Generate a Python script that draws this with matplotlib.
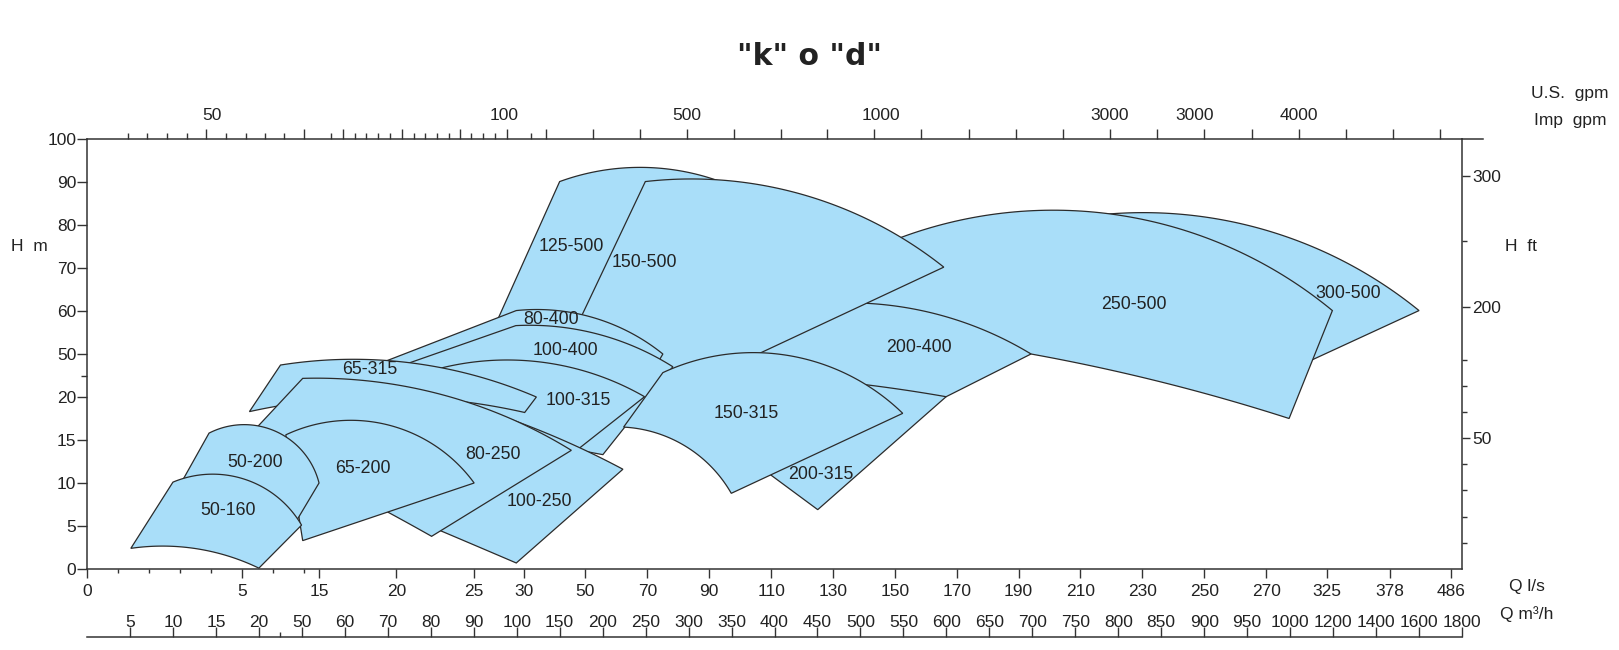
import numpy as np
import matplotlib
matplotlib.use("Agg")
import matplotlib.pyplot as plt
from matplotlib.patches import Polygon
from matplotlib.lines import Line2D
from matplotlib.ticker import NullFormatter

plt.rcParams['font.family'] = ['Liberation Sans', 'DejaVu Sans']

TITLE = '"k" o "d"'

# axis scales as printed on the sheet (labels are evenly spaced)
QM3_TICKS = [5, 10, 15, 20, 50, 60, 70, 80, 90, 100, 150, 200, 250, 300, 350, 400,
             450, 500, 550, 600, 650, 700, 750, 800, 850, 900, 950, 1000,
             1200, 1400, 1600, 1800]
H_TICKS = [0, 5, 10, 15, 20, 50, 60, 70, 80, 90, 100]
QLS_TICKS = [0, 5, 15, 20, 25, 30, 50, 70, 90, 110, 130, 150, 170, 190, 210,
             230, 250, 270, 325, 378, 486]
FT_TICKS = [10, 20, 30, 40, 50, 60, 90, 150, 200, 250, 300]
FT_LABELED = [50, 200, 300]
GPM_LABELS = ['50', '100', '500', '1000', '3000', '3000', '4000']
# where those gpm labels sit, read in m3/h
GPM_LABEL_AT = [14.5, 97.0, 297.7, 523.7, 789.5, 889.2, 1041.9]
GPM_LONG_AT = [13.84, 50.47, 59.53, 73.26, 86.74, 97.67, 133.7, 188.4, 243.0, 297.7,
               352.3, 407.0, 461.6, 516.3, 570.9, 626.7, 681.4, 736.0, 790.7, 845.3,
               900.0, 955.8, 1041.9, 1260.5, 1479.1, 1697.7]
GPM_SHORT_AT = [4.77, 7.03, 9.30, 11.63, 16.16, 18.49, 24.19, 37.44, 56.74, 62.33,
                64.88, 67.67, 70.47, 76.05, 78.60, 81.40, 84.19, 89.30, 92.09, 94.88,
                116.3]
QLS_MINOR_AT = [3.6, 7.2, 10.8, 14.4, 30.0, 50.4]   # in m3/h
QM3_MINOR = [35]
H_MINOR = [35]

# pump ranges: (Q m3/h, H m, kind); c = corner, m = point the curved edge runs through
S_300_500 = [(766.3, 82.1, 'c'), (940.7, 80.4, 'm'), (1600.0, 60.1, 'c'),
             (987.2, 35.3, 'c'), (836.0, 62.6, 'c')]
S_250_500 = [(522.1, 75.1, 'c'), (785.7, 82.7, 'm'), (1196.7, 60.1, 'c'),
             (998.8, 17.5, 'c'), (824.4, 34.2, 'm'), (698.5, 50.0, 'c'),
             (615.1, 55.6, 'c'), (522.1, 58.4, 'c'), (464.0, 62.6, 'c')]
S_200_315 = [(382.6, 11.9, 'c'), (450.3, 6.9, 'c'), (599.7, 20.2, 'c'),
             (545.3, 35.3, 'c'), (452.3, 35.3, 'c')]
S_200_400 = [(484.9, 61.9, 'c'), (591.9, 59.1, 'm'), (698.5, 50.0, 'c'),
             (599.7, 20.2, 'c'), (508.5, 28.4, 'm'), (429.1, 33.3, 'c'),
             (388.4, 47.2, 'c'), (380.2, 50.9, 'c')]
S_125_500 = [(94.9, 56.5, 'c'), (150.0, 90.1, 'c'), (243.0, 93.4, 'm'),
             (365.1, 87.7, 'c'), (243.0, 57.9, 'c')]
S_150_500 = [(172.1, 57.4, 'c'), (249.7, 90.1, 'c'), (417.4, 87.9, 'm'),
             (597.0, 70.2, 'c'), (353.5, 42.3, 'c'), (301.2, 30.5, 'c'),
             (219.8, 50.9, 'c')]
S_80_400 = [(65.8, 40.7, 'c'), (99.9, 60.1, 'c'), (184.9, 58.7, 'm'),
            (270.1, 50.0, 'c'), (260.5, 40.2, 'c')]
S_100_400 = [(71.6, 40.2, 'c'), (99.8, 56.6, 'c'), (193.0, 54.7, 'm'),
             (281.7, 41.1, 'c'), (200.3, 13.3, 'c'), (96.0, 16.7, 'm')]
S_150_315 = [(270.1, 37.0, 'c'), (382.6, 50.3, 'm'), (549.2, 18.1, 'c'),
             (349.7, 8.8, 'c'), (274.1, 15.4, 'm'), (224.4, 16.5, 'c')]
S_100_315 = [(79.8, 28.4, 'c'), (79.8, 38.1, 'c'), (150.0, 42.3, 'm'),
             (248.8, 20.2, 'c'), (163.4, 13.3, 'c'), (96.0, 16.4, 'm')]
S_65_315 = [(18.9, 18.3, 'c'), (35.1, 42.3, 'c'), (75.1, 43.9, 'm'),
            (122.9, 20.0, 'c'), (109.3, 18.2, 'c'), (72.8, 20.0, 'm')]
S_100_250 = [(77.4, 23.5, 'c'), (109.3, 16.8, 'm'), (223.6, 11.6, 'c'),
             (99.9, 0.7, 'c'), (84.4, 4.0, 'm'), (63.5, 8.4, 'c')]
S_80_250 = [(50.2, 33.0, 'c'), (82.9, 21.4, 'm'), (163.6, 13.8, 'c'),
            (80.2, 3.8, 'c'), (69.7, 6.7, 'm'), (18.4, 15.0, 'c')]
S_65_200 = [(38.8, 15.6, 'c'), (71.2, 16.6, 'm'), (90.1, 10.0, 'c'), (50.2, 3.3, 'c')]
S_50_200 = [(10.5, 9.2, 'c'), (14.2, 15.8, 'c'), (25.4, 16.4, 'm'),
            (54.0, 10.0, 'c'), (41.6, 4.3, 'c')]
S_50_160 = [(5.1, 2.4, 'c'), (10.0, 10.1, 'c'), (19.0, 10.2, 'm'), (49.8, 5.1, 'c'),
            (20.0, 0.1, 'c'), (13.1, 2.3, 'm')]

# back to front
NAMES = ['300-500', '250-500', '200-315', '200-400', '125-500', '150-500', '80-400',
         '100-400', '150-315', '100-315', '65-315', '100-250', '80-250', '65-200',
         '50-200', '50-160']
SHAPES = [S_300_500, S_250_500, S_200_315, S_200_400, S_125_500, S_150_500, S_80_400,
          S_100_400, S_150_315, S_100_315, S_65_315, S_100_250, S_80_250, S_65_200,
          S_50_200, S_50_160]
LABEL_Q = [1271.2, 818.6, 454.3, 567.8, 163.6, 248.0, 140.3, 157.0, 367.1, 171.3,
           65.8, 126.7, 94.5, 64.3, 19.6, 16.4]
LABEL_H = [64.1, 61.4, 11.0, 51.6, 75.0, 71.2, 58.1, 50.7, 18.1, 19.6,
           39.3, 7.8, 13.3, 11.7, 12.4, 6.8]

FILL = '#a9def9'
EDGE = '#2b2b2b'
AXC = '#333333'
TXT = '#222222'

# piecewise scales: every printed label takes one equal step
QX = np.array([0] + QM3_TICKS, dtype=float)
SX = np.arange(-1, len(QM3_TICKS), dtype=float)
HY = np.array(H_TICKS, dtype=float)
SY = np.arange(len(H_TICKS), dtype=float)


def fx(v):
    return np.interp(v, QX, SX)


def fx_inv(s):
    return np.interp(s, SX, QX)


def fy(v):
    return np.interp(v, HY, SY)


def fy_inv(s):
    return np.interp(s, SY, HY)


def circle_arc(p0, p1, p2, n=80):
    (x1, y1), (x2, y2), (x3, y3) = p0, p1, p2
    d = 2 * (x1 * (y2 - y3) + x2 * (y3 - y1) + x3 * (y1 - y2))
    if abs(d) < 1e-9:
        return np.array([p0, p2])
    a1, a2, a3 = x1 ** 2 + y1 ** 2, x2 ** 2 + y2 ** 2, x3 ** 2 + y3 ** 2
    cx = (a1 * (y2 - y3) + a2 * (y3 - y1) + a3 * (y1 - y2)) / d
    cy = (a1 * (x3 - x2) + a2 * (x1 - x3) + a3 * (x2 - x1)) / d
    r = np.hypot(x1 - cx, y1 - cy)
    t1 = np.arctan2(y1 - cy, x1 - cx)
    t2 = np.arctan2(y2 - cy, x2 - cx)
    t3 = np.arctan2(y3 - cy, x3 - cx)
    sweep = (t3 - t1) % (2 * np.pi)
    if (t2 - t1) % (2 * np.pi) > sweep:
        sweep -= 2 * np.pi
    t = t1 + sweep * np.linspace(0, 1, n)
    return np.column_stack([cx + r * np.cos(t), cy + r * np.sin(t)])


def outline(shape):
    # arcs are built on the sheet's own (even) grid, then mapped back to values
    pts = [(float(fx(q)), float(fy(h))) for q, h, _ in shape]
    kinds = [k for _, _, k in shape]
    n = len(shape)
    out = []
    for i in range(n):
        if kinds[i] == 'm':
            continue
        out.append(pts[i])
        if kinds[(i + 1) % n] == 'm':
            seg = circle_arc(pts[i], pts[(i + 1) % n], pts[(i + 2) % n])
            out.extend(seg[1:-1])
    xy = np.array(out)
    return np.column_stack([fx_inv(xy[:, 0]), fy_inv(xy[:, 1])])


W, H = 1619, 650
fig = plt.figure(figsize=(W / 100, H / 100), dpi=100)


def fbox(l, t, r, b):
    return [l / W, 1 - b / H, (r - l) / W, (b - t) / H]


ax = fig.add_axes(fbox(87, 139, 1462, 569))
ax.set_xscale('function', functions=(fx, fx_inv))
ax.set_yscale('function', functions=(fy, fy_inv))
ax.set_xlim(0, 1800)
ax.set_ylim(0, 100)
for sp in ax.spines.values():
    sp.set_color(AXC)
    sp.set_linewidth(1.1)

for i, (name, shape) in enumerate(zip(NAMES, SHAPES)):
    ax.add_patch(Polygon(outline(shape), closed=True, facecolor=FILL, edgecolor=EDGE,
                         linewidth=0.9, zorder=2 + i * 0.01))
for name, q, h in zip(NAMES, LABEL_Q, LABEL_H):
    ax.text(q, h, name, ha='center', va='center', fontsize=12.8, color=TXT, zorder=5)

# bottom: Q l/s
qls_at = np.array(QLS_TICKS, dtype=float) * 3.6
qls_at[QLS_TICKS.index(378)] = 1465.0   # the sheet prints 378 off its true place
ax.set_xticks(qls_at, [str(v) for v in QLS_TICKS])
ax.set_xticks(QLS_MINOR_AT, minor=True)
ax.xaxis.set_minor_formatter(NullFormatter())
ax.tick_params(axis='x', which='major', direction='out', length=6.5, width=1.0,
               pad=4.0, labelsize=12.5, color=AXC, labelcolor=TXT)
ax.tick_params(axis='x', which='minor', direction='out', length=3.0, width=1.0, color=AXC)

# left: H m
ax.set_yticks(H_TICKS, [str(v) for v in H_TICKS])
ax.set_yticks(H_MINOR, minor=True)
ax.yaxis.set_minor_formatter(NullFormatter())
ax.tick_params(axis='y', which='major', direction='out', length=7.2, width=1.0,
               pad=0.5, labelsize=12.5, color=AXC, labelcolor=TXT)
ax.tick_params(axis='y', which='minor', direction='out', length=4.3, width=1.0, color=AXC)

# right: H ft
ax_r = ax.twinx()
ax_r.set_yscale('function', functions=(fy, fy_inv))
ax_r.set_ylim(0, 100)
ax_r.set_yticks([f * 0.3048 for f in FT_LABELED], [str(f) for f in FT_LABELED])
ax_r.set_yticks([f * 0.3048 for f in FT_TICKS if f not in FT_LABELED], minor=True)
ax_r.yaxis.set_minor_formatter(NullFormatter())
ax_r.tick_params(axis='y', which='major', direction='out', length=6.0, width=1.0,
                 pad=1.5, labelsize=12.5, color=AXC, labelcolor=TXT)
ax_r.tick_params(axis='y', which='minor', direction='out', length=3.8, width=1.0, color=AXC)
for sp in ax_r.spines.values():
    sp.set_visible(False)

# top: gpm
ax_t = ax.twiny()
ax_t.set_xscale('function', functions=(fx, fx_inv))
ax_t.set_xlim(0, 1800)
ax_t.set_xticks(GPM_LONG_AT)
ax_t.set_xticks(GPM_SHORT_AT, minor=True)
ax_t.xaxis.set_major_formatter(NullFormatter())
ax_t.xaxis.set_minor_formatter(NullFormatter())
ax_t.tick_params(axis='x', which='major', direction='out', length=7.5, width=1.0, color=AXC)
ax_t.tick_params(axis='x', which='minor', direction='out', length=4.0, width=1.0, color=AXC)
for sp in ax_t.spines.values():
    sp.set_visible(False)
for lab, q in zip(GPM_LABELS, GPM_LABEL_AT):
    ax_t.text(q, 1.0535, lab, transform=ax_t.get_xaxis_transform(), ha='center',
              va='center', fontsize=12.5, color=TXT)

# second bottom scale: Q m3/h
ax_m = fig.add_axes(fbox(87, 637, 1462, 638))
ax_m.set_xscale('function', functions=(fx, fx_inv))
ax_m.set_xlim(0, 1800)
ax_m.patch.set_visible(False)
for k, sp in ax_m.spines.items():
    sp.set_visible(k == 'top')
ax_m.spines['top'].set_color(AXC)
ax_m.spines['top'].set_linewidth(1.1)
ax_m.set_yticks([])
ax_m.xaxis.set_ticks_position('top')
ax_m.xaxis.set_label_position('top')
ax_m.set_xticks(QM3_TICKS, [str(v) for v in QM3_TICKS])
ax_m.set_xticks(QM3_MINOR, minor=True)
ax_m.xaxis.set_minor_formatter(NullFormatter())
ax_m.tick_params(axis='x', which='major', direction='out', length=7.0, width=1.0,
                 pad=-2.0, labelsize=12.5, color=AXC, labelcolor=TXT)
ax_m.tick_params(axis='x', which='minor', direction='out', length=3.5, width=1.0, color=AXC)

# top line runs a little past the right scale
fig.add_artist(Line2D([1462 / W, 1483 / W], [1 - 139 / H, 1 - 139 / H],
                      transform=fig.transFigure, color=AXC, linewidth=1.1))


def ftext(x, y, s, **kw):
    fig.text(x / W, 1 - y / H, s, ha='center', va='center', color=TXT, **kw)


ftext(809.5, 56.7, TITLE, fontsize=21.5, fontweight='bold', family='DejaVu Sans')
ftext(29.2, 246.7, 'H  m', fontsize=12.5)
ftext(1520.5, 246.7, 'H  ft', fontsize=12.5)
ftext(1570, 93.3, 'U.S.  gpm', fontsize=12.5)
ftext(1570, 120.7, 'Imp  gpm', fontsize=12.5)
ftext(1527, 586.7, 'Q l/s', fontsize=12.5)
ftext(1527, 614, 'Q m\u00b3/h', fontsize=12.5)

fig.savefig('out.png', dpi=100)
